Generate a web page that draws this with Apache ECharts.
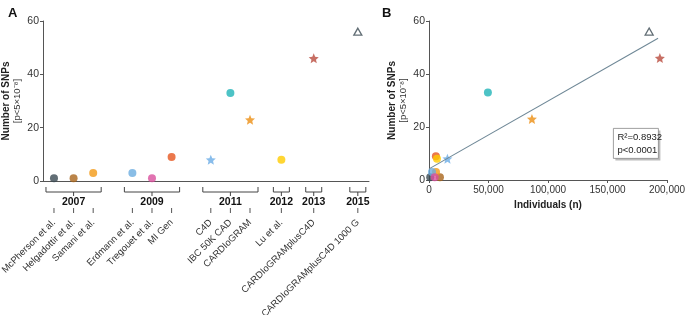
<!DOCTYPE html>
<html><head><meta charset="utf-8">
<script src="https://cdn.jsdelivr.net/npm/echarts@6/dist/echarts.min.js"></script>
<style>html,body{margin:0;padding:0;background:#fff}#c{width:685px;height:315px}</style>
</head><body><div id="c"></div>
<script>
// ---- data ----
const studies = ['McPherson et al.', 'Helgadottir et al.', 'Samani et al.', 'Erdmann et al.', 'Tregouet et al.', 'MI Gen', 'C4D', 'IBC 50K CAD', 'CARDIoGRAM', 'Lu et al.', 'CARDIoGRAMplusC4D', 'CARDIoGRAMplusC4D 1000 G'];
const studyYears = ['2007', '2007', '2007', '2009', '2009', '2009', '2011', '2011', '2011', '2012', '2013', '2015'];
const studySlots = [0, 1, 2, 4, 5, 6, 8, 9, 10, 11.6, 13.25, 15.5];
const snpCounts = [1, 1, 3, 3, 1, 9, 8, 33, 23, 8, 46, 56];
const individuals = [1000, 9200, 5900, 2500, 4800, 5800, 15500, 49500, 86500, 6700, 194000, 185000];
const fitX = [0, 192500];
const fitY = [4.2, 53.5];
const statsText = ['R²=0.8932', 'p<0.0001'];

// ---- styles ----
const STAR = 'path://M0,-1 L0.2645,-0.364 L0.951,-0.309 L0.428,0.139 L0.588,0.809 L0,0.45 L-0.588,0.809 L-0.428,0.139 L-0.951,-0.309 L-0.2645,-0.364 Z';
const markerColors = ['#3b4a52', '#a9651c', '#f39a17', '#6cade0', '#d9509d', '#e6561f', '#6cade6', '#20b4b8', '#ec8f13', '#ffcc00', '#b94b3d', '#3b4a52'];
const markerKinds = ['c', 'c', 'c', 'c', 'c', 'c', 's', 'c', 's', 'c', 's', 't'];
const FONT = 'Liberation Sans, Arial, sans-serif';
const AX = '#555';

function markerItem(i, value) {
  const k = markerKinds[i];
  if (k === 's') return { value, symbol: STAR, symbolSize: 10, itemStyle: { color: markerColors[i] } };
  if (k === 't') return { value, symbol: 'triangle', symbolSize: [8, 7], itemStyle: { color: '#fff', borderColor: markerColors[i], borderWidth: 1.3 } };
  return { value, symbol: 'circle', symbolSize: 8, itemStyle: { color: markerColors[i] } };
}

// year groups
const groups = [];
studyYears.forEach((y, i) => {
  const g = groups.find(g => g.year === y);
  if (g) { g.end = studySlots[i]; } else groups.push({ year: y, start: studySlots[i], end: studySlots[i] });
});

function yAxis(gi) {
  return {
    type: 'value', gridIndex: gi, min: 0, max: 60, interval: 20,
    axisLine: { show: true, onZero: false, lineStyle: { color: AX, width: 1 } },
    axisTick: { show: true, length: 3, lineStyle: { color: AX } },
    axisLabel: { fontSize: 10.5, color: '#333', fontFamily: FONT, margin: 4 },
    splitLine: { show: false },
    name: '{a|Number of SNPs}\n{b|[p<5×10⁻⁸]}',
    nameLocation: 'middle', nameRotate: 90, nameGap: 20,
    nameTextStyle: { rich: { a: { fontWeight: 'bold', fontSize: 10, color: '#222', fontFamily: FONT, lineHeight: 11 }, b: { fontSize: 9.5, color: '#333', fontFamily: FONT, lineHeight: 11 } } }
  };
}

const chart = echarts.init(document.getElementById('c'));
chart.setOption({
  animation: false,
  title: [
    { text: 'A', left: 3, top: 2, textStyle: { fontSize: 13, fontWeight: 'bold', fontFamily: FONT, color: '#111' } },
    { text: 'B', left: 377, top: 2, textStyle: { fontSize: 13, fontWeight: 'bold', fontFamily: FONT, color: '#111' } }
  ],
  grid: [
    { left: 43, top: 21, right: 316, bottom: 134, outerBoundsMode: 'none', containLabel: false },
    { left: 429, top: 21, right: 18, bottom: 135, outerBoundsMode: 'none', containLabel: false }
  ],
  xAxis: [
    {
      type: 'value', gridIndex: 0, min: -0.56, max: 16.07,
      axisLine: { show: true, onZero: false, lineStyle: { color: AX, width: 1 } },
      axisTick: { show: false }, splitLine: { show: false },
      axisLabel: {
        customValues: studySlots, rotate: 45, margin: 40, fontSize: 9.5, color: '#333', fontFamily: FONT,
        formatter: v => { const i = studySlots.indexOf(v); return i >= 0 ? studies[i] : ''; }
      }
    },
    {
      type: 'value', gridIndex: 1, min: 0, max: 200000, interval: 50000,
      axisLine: { show: true, onZero: false, lineStyle: { color: AX, width: 1 } },
      axisTick: { show: true, length: 3, lineStyle: { color: AX } },
      splitLine: { show: false },
      axisLabel: { fontSize: 10, color: '#333', fontFamily: FONT, margin: 5, formatter: v => v.toLocaleString('en-US') },
      name: 'Individuals (n)', nameLocation: 'middle', nameGap: 18,
      nameTextStyle: { fontWeight: 'bold', fontSize: 10, color: '#222', fontFamily: FONT }
    }
  ],
  yAxis: [yAxis(0), yAxis(1)],
  series: [
    {
      type: 'custom', xAxisIndex: 0, yAxisIndex: 0, clip: false, silent: true,
      data: groups.map(g => [g.start, g.end]),
      encode: { x: [0, 1] },
      renderItem: (params, api) => {
        const g = groups[params.dataIndex];
        const p0 = api.coord([api.value(0), 0]);
        const p1 = api.coord([api.value(1), 0]);
        const y0 = p0[1];
        const a = p0[0] - 8, b = p1[0] + 8, c = (p0[0] + p1[0]) / 2;
        const ls = { stroke: '#444', lineWidth: 1, fill: null };
        return {
          type: 'group', children: [
            { type: 'polyline', shape: { points: [[a, y0 + 6], [a, y0 + 11], [b, y0 + 11], [b, y0 + 6]] }, style: ls },
            { type: 'line', shape: { x1: c, y1: y0 + 11, x2: c, y2: y0 + 15 }, style: ls },
            { type: 'text', x: c, y: y0 + 21, style: { text: g.year, fontWeight: 'bold', fontSize: 10.5, fontFamily: FONT, fill: '#111', align: 'center', verticalAlign: 'middle' } }
          ]
        };
      }
    },
    {
      type: 'custom', xAxisIndex: 0, yAxisIndex: 0, clip: false, silent: true,
      data: studySlots.map(s => [s]),
      encode: { x: 0 },
      renderItem: (params, api) => {
        const p = api.coord([api.value(0), 0]);
        return { type: 'line', shape: { x1: p[0], y1: p[1] + 27, x2: p[0], y2: p[1] + 32 }, style: { stroke: '#555', lineWidth: 1 } };
      }
    },
    {
      type: 'scatter', xAxisIndex: 0, yAxisIndex: 0, silent: true,
      data: snpCounts.map((v, i) => markerItem(i, [studySlots[i], v]))
    },
    {
      type: 'line', xAxisIndex: 1, yAxisIndex: 1, silent: true, symbol: 'none',
      lineStyle: { color: '#6e8796', width: 1.1 },
      data: fitX.map((x, i) => [x, fitY[i]])
    },
    {
      type: 'scatter', xAxisIndex: 1, yAxisIndex: 1, silent: true, clip: false,
      data: snpCounts.map((v, i) => markerItem(i, [individuals[i], v]))
    }
  ],
  graphic: [
    {
      type: 'group', left: 613, top: 128, children: [
        { type: 'rect', shape: { x: 2, y: 2, width: 45, height: 30 }, style: { fill: '#bbb' } },
        { type: 'rect', shape: { x: 0, y: 0, width: 45, height: 30 }, style: { fill: '#fff', stroke: '#888', lineWidth: 0.8 } },
        { type: 'text', x: 4, y: 9, style: { text: statsText[0], fontSize: 9.5, fontFamily: FONT, fill: '#222', verticalAlign: 'middle' } },
        { type: 'text', x: 4, y: 22, style: { text: statsText[1], fontSize: 9.5, fontFamily: FONT, fill: '#222', verticalAlign: 'middle' } }
      ]
    }
  ]
});
</script></body></html>
